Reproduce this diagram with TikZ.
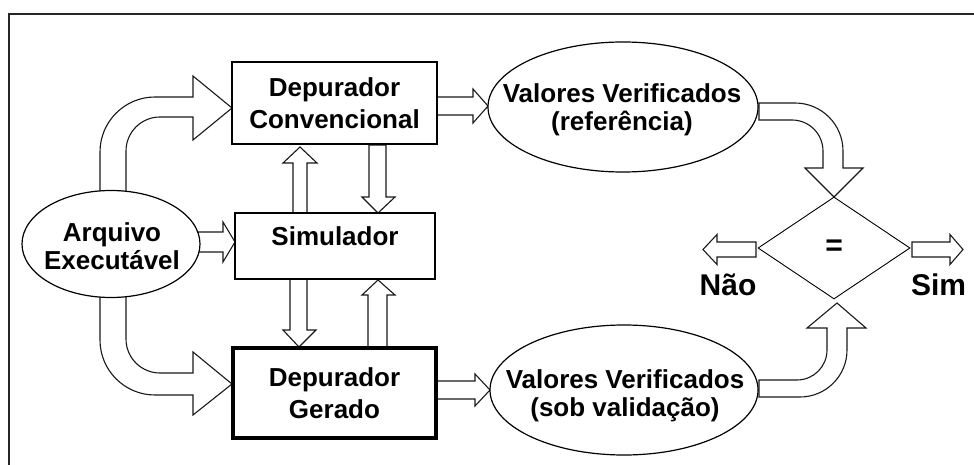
\documentclass[tikz,border=0pt]{standalone}
\usepackage{fontspec}
\setmainfont{Liberation Sans}
\usetikzlibrary{shapes.geometric}
\begin{document}
\begin{tikzpicture}[x=1pt,y=-1pt,line join=miter,
  blk/.style={draw=black!90,fill=white,line width=1.1pt},
  lbl/.style={font=\fontsize{26}{28}\selectfont\bfseries,align=center,inner sep=0pt},
  boxn/.style={draw,fill=white,line width=1.4pt,inner sep=0pt,align=center,
    font=\fontsize{26}{32}\selectfont\bfseries},
  ell/.style={draw,ellipse,fill=white,line width=1.2pt,inner sep=0pt},
  big/.style={font=\fontsize{30}{34}\selectfont\bfseries}]
\useasboundingbox (0,0) rectangle (974,465);
\draw[line width=1.4pt,draw=black!85] (9,465) -- (9,14) -- (974,14);

% block arrows
% Arquivo -> Depurador Convencional
\path[blk] (100,230) -- (100,152) arc[start angle=180,end angle=270,radius=55]
  -- (193,97) -- (193,76) -- (232,108) -- (193,140) -- (193,117) -- (160,117)
  arc[start angle=270,end angle=180,radius=34] -- (126,230) -- cycle;
% Arquivo -> Depurador Gerado
\path[blk] (100,260) -- (100,340) arc[start angle=180,end angle=90,radius=55]
  -- (193,395) -- (193,415) -- (232,384) -- (193,352) -- (193,373) -- (160,373)
  arc[start angle=90,end angle=180,radius=34] -- (126,260) -- cycle;
% Arquivo -> Simulador
\path[blk] (190,232) -- (223,232) -- (223,222) -- (235,242) -- (223,262) -- (223,252) -- (190,252) -- cycle;
% Conv -> ref
\path[blk] (437,97) -- (473,97) -- (473,89) -- (488,106) -- (473,123) -- (473,115) -- (437,115) -- cycle;
% Gerado -> val
\path[blk] (437,381) -- (475,381) -- (475,374) -- (490,390) -- (475,406) -- (475,399) -- (437,399) -- cycle;
% Simulador -> Conv (up)
\path[blk] (293,213) -- (293,163) -- (283,163) -- (300,147) -- (317,163) -- (307,163) -- (307,213) -- cycle;
% Conv -> Simulador (down)
\path[blk] (369,145) -- (369,197) -- (362,197) -- (378,213) -- (395,197) -- (386,197) -- (386,145) -- cycle;
% Simulador -> Gerado (down)
\path[blk] (290,279) -- (290,330) -- (283,330) -- (299,347) -- (316,330) -- (307,330) -- (307,279) -- cycle;
% Gerado -> Simulador (up)
\path[blk] (368,347) -- (368,295) -- (362,295) -- (378,280) -- (395,295) -- (387,295) -- (387,347) -- cycle;
% ref -> compare
\path[blk] (759,103) -- (795,103) arc[start angle=270,end angle=360,radius=48]
  -- (843,168) -- (863,168) -- (834,197) -- (805,168) -- (823,168) -- (823,151)
  arc[start angle=0,end angle=-90,radius=31] -- (759,120) -- cycle;
% val -> compare
\path[blk] (759,380) -- (797,380) arc[start angle=90,end angle=0,radius=30]
  -- (827,328) -- (807,328) -- (837,303) -- (866,328) -- (847,328) -- (847,350)
  arc[start angle=0,end angle=90,radius=47] -- (759,397) -- cycle;
% Nao / Sim
\path[blk] (756,242) -- (717,242) -- (717,234.5) -- (703,249.5) -- (717,264.5) -- (717,257) -- (756,257) -- cycle;
\path[blk] (912,242) -- (950,242) -- (950,234.5) -- (963,249.5) -- (950,264.5) -- (950,257) -- (912,257) -- cycle;

% nodes
\node[ell,minimum width=178pt,minimum height=107pt] (arq) at (111,244) {};
\node[lbl] (arqt) at (112,246) {Arquivo\\Executável};
\node[boxn,minimum width=205pt,minimum height=82pt] (conv) at (334.5,103) {Depurador\\Convencional};
\node[boxn,minimum width=200pt,minimum height=66pt,text height=10pt,text depth=12pt] (sim) at (335,246) {Simulador};
\node[boxn,line width=3.6pt,minimum width=203pt,minimum height=90pt] (ger) at (334.5,393) {Depurador\\Gerado};
\node[ell,minimum width=270pt,minimum height=130pt] (ref) at (623,107) {};
\node[lbl] (reft) at (622,110) {Valores Verificados\\(referência)};
\node[ell,minimum width=268pt,minimum height=130pt] (val) at (624,390) {};
\node[lbl] (valt) at (625,396) {Valores Verificados\\(sob validação)};
\node[diamond,draw,fill=white,line width=0.9pt,inner sep=0pt,minimum width=152pt,minimum height=102pt,big] (cmp) at (834,248) {=};
\node[big,anchor=base] (nao) at (728,295) {Não};
\node[big,anchor=base] (simt) at (938.5,295) {Sim};
\end{tikzpicture}
\end{document}
